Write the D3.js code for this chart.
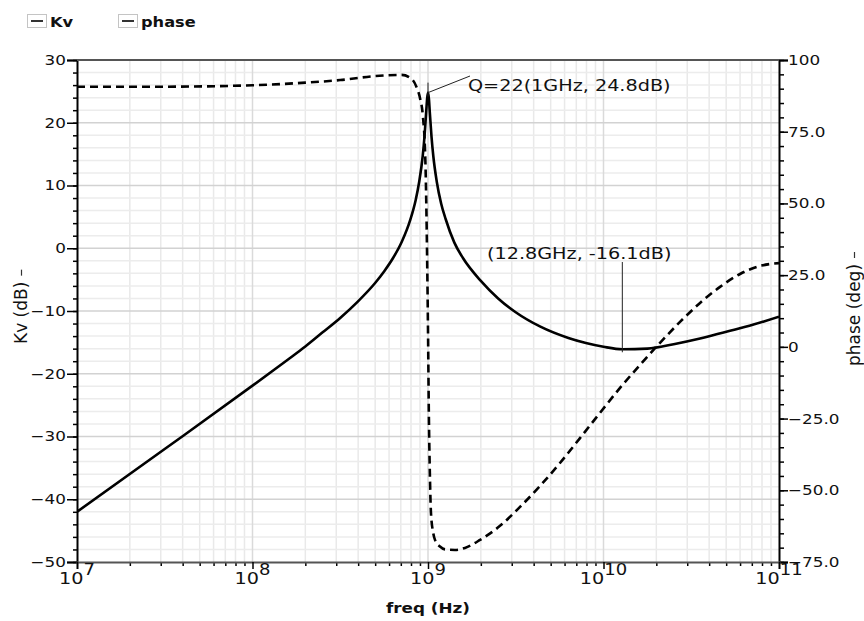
<!DOCTYPE html>
<html>
<head>
<meta charset="utf-8">
<script src="https://cdn.jsdelivr.net/npm/d3@7"></script>
<style>
  body { margin: 0; background: #fff; }
  svg { display: block; font-family: "DejaVu Sans", Verdana, sans-serif; }
</style>
</head>
<body>
<div id="canvas"></div>
<script>
// Kv magnitude (dB)
const kvFreq = [1e7, 3.16e7, 1e8, 1.58e8, 2e8, 2.51e8, 3.16e8, 3.98e8, 5.01e8, 5.62e8,
  6.31e8, 7.08e8, 7.94e8, 8.51e8, 8.91e8, 9.33e8, 9.55e8, 9.77e8, 9.89e8, 1e9,
  1.012e9, 1.023e9, 1.047e9, 1.072e9, 1.122e9, 1.189e9, 1.259e9, 1.413e9, 1.585e9, 2e9,
  2.51e9, 3.16e9, 4.37e9, 6.31e9, 7.94e9, 1e10, 1.28e10, 1.78e10, 2.51e10, 3.55e10,
  5.01e10, 7.08e10, 1e11];
const kvDb = [-42.0, -32.0, -21.9, -17.8, -15.65, -13.4, -11.1, -8.5, -5.5, -3.7,
  -1.6, 1.0, 4.6, 7.7, 10.6, 14.7, 17.8, 21.8, 23.9, 24.8,
  23.85, 21.8, 17.8, 14.7, 10.6, 7.1, 4.7, 0.9, -1.6, -5.2,
  -8.0, -10.2, -12.5, -14.3, -15.1, -15.7, -16.1, -16.0, -15.3, -14.4,
  -13.3, -12.2, -10.9];

// phase (deg)
const phaseFreq = [1e7, 3.16e7, 1e8, 2e8, 3.16e8, 5.01e8, 7.08e8, 8.13e8, 8.61e8, 9.02e8,
  9.33e8, 9.66e8, 9.89e8, 1e9, 1.012e9, 1.023e9, 1.04e9, 1.072e9, 1.096e9, 1.17e9,
  1.25e9, 1.425e9, 1.625e9, 1.979e9, 2.572e9, 3.344e9, 4.347e9, 5.651e9, 7.347e9, 9.552e9,
  1.242e10, 1.614e10, 2.099e10, 2.729e10, 3.548e10, 4.613e10, 5.998e10, 7.798e10, 1e11];
const phaseDeg = [90.7, 90.7, 91.2, 92.1, 93.0, 94.4, 94.8, 93.2, 90.5, 86.5,
  81, 65, 30, 6, -25, -42, -58, -65, -67.3, -69.6,
  -70.6, -70.8, -70.1, -67.3, -62.4, -55.8, -48.5, -40.5, -31.8, -23.0,
  -14.3, -6.3, 1.4, 8.7, 15.3, 20.9, 25.4, 28.2, 29.2];

const kvTicks = [30, 20, 10, 0, -10, -20, -30, -40, -50];
const phaseTicks = [100, 75, 50, 25, 0, -25, -50, -75];
const phaseTickLabels = ["100", "75.0", "50.0", "25.0", "0", "\u221225.0", "\u221250.0", "\u221275.0"];
const decades = [1e7, 1e8, 1e9, 1e10, 1e11];
const decadeExp = ["7", "8", "9", "10", "11"];
const legendNames = ["Kv", "phase"];
const notes = [
  { f: 1e9, db: 24.8, label: "Q=22(1GHz, 24.8dB)" },
  { f: 1.28e10, db: -16.1, label: "(12.8GHz, -16.1dB)" }
];

const w = 864, h = 621;
const margin = { top: 60, bottom: 59, left: 77, right: 85 };
const width = w - margin.left - margin.right;
const height = h - margin.top - margin.bottom;
const K = 1.2; // glyphs in the picture are a bit wide

function stretch(sel) {
  sel.each(function () {
    const len = this.getComputedTextLength();
    d3.select(this).attr("textLength", len * K).attr("lengthAdjust", "spacingAndGlyphs");
  });
}

const svg = d3.select("#canvas").append("svg")
  .attr("width", w).attr("height", h);

const chart = svg.append("g")
  .attr("transform", "translate(" + margin.left + "," + margin.top + ")");

const x = d3.scaleLog().domain([1e7, 1e11]).range([0, width]);
const y = d3.scaleLinear().domain([-50, 30]).range([height, 0]);
const yp = d3.scaleLinear().domain([-75, 100]).range([height, 0]);

// grid
const minorX = [];
decades.slice(0, -1).forEach(function (d) {
  for (let k = 2; k <= 9; k++) minorX.push(d * k);
});
const grid = chart.append("g").attr("class", "grid");
grid.selectAll(".vminor").data(minorX).enter().append("line")
  .attr("x1", d => x(d)).attr("x2", d => x(d)).attr("y1", 0).attr("y2", height)
  .attr("stroke", "#e9e9e9").attr("stroke-width", 1.5);
grid.selectAll(".hminor").data(d3.range(-48, 30, 2).filter(v => v % 10 !== 0)).enter().append("line")
  .attr("x1", 0).attr("x2", width).attr("y1", d => y(d)).attr("y2", d => y(d))
  .attr("stroke", "#ececec").attr("stroke-width", 1.5);
grid.selectAll(".vmajor").data(decades.slice(1, -1)).enter().append("line")
  .attr("x1", d => x(d)).attr("x2", d => x(d)).attr("y1", 0).attr("y2", height)
  .attr("stroke", "#dadada").attr("stroke-width", 1.5);
grid.selectAll(".hmajor").data(kvTicks.slice(1, -1)).enter().append("line")
  .attr("x1", 0).attr("x2", width).attr("y1", d => y(d)).attr("y2", d => y(d))
  .attr("stroke", "#d2d2d2").attr("stroke-width", 1.5);

// curves
chart.append("clipPath").attr("id", "clip")
  .append("rect").attr("x", 0).attr("y", -2).attr("width", width).attr("height", height + 4);

const kvLine = d3.line().curve(d3.curveMonotoneX)
  .x((d, i) => x(kvFreq[i])).y(d => y(d));
const phaseLine = d3.line().curve(d3.curveMonotoneX)
  .x((d, i) => x(phaseFreq[i])).y(d => yp(d));

const curves = chart.append("g").attr("clip-path", "url(#clip)");
curves.append("path").datum(phaseDeg)
  .attr("d", phaseLine).attr("fill", "none")
  .attr("stroke", "#000").attr("stroke-width", 2.6).attr("stroke-dasharray", "8,5");
curves.append("path").datum(kvDb)
  .attr("d", kvLine).attr("fill", "none")
  .attr("stroke", "#000").attr("stroke-width", 2.6);

// axes
function styleAxis(g) {
  g.attr("font-family", null).attr("font-size", 14);
  g.selectAll(".tick line").attr("stroke", "#000").attr("stroke-width", 1.5);
  g.selectAll("text").attr("fill", "#111");
}

const fmtKv = d => d < 0 ? "\u2212" + Math.abs(d) : String(d);

chart.append("g")
  .call(d3.axisLeft(y).tickValues(d3.range(-50, 31, 2)).tickSize(4).tickFormat(""))
  .call(g => g.select(".domain").remove())
  .call(g => g.selectAll("line").attr("stroke", "#000").attr("stroke-width", 1.5));
const leftAxis = chart.append("g")
  .call(d3.axisLeft(y).tickValues(kvTicks).tickSize(10).tickPadding(1).tickFormat(fmtKv))
  .call(styleAxis);
leftAxis.select(".domain").attr("stroke", "#000").attr("stroke-width", 2);

chart.append("g")
  .attr("transform", "translate(" + width + ",0)")
  .call(d3.axisRight(yp).tickValues(d3.range(-75, 101, 5)).tickSize(5).tickFormat(""))
  .call(g => g.select(".domain").remove())
  .call(g => g.selectAll("line").attr("stroke", "#000").attr("stroke-width", 1.5));
const rightAxis = chart.append("g")
  .attr("transform", "translate(" + width + ",0)")
  .call(d3.axisRight(yp).tickValues(phaseTicks).tickSize(9).tickPadding(0)
    .tickFormat((d, i) => phaseTickLabels[i]))
  .call(styleAxis);
rightAxis.select(".domain").attr("stroke", "#000").attr("stroke-width", 2);

chart.append("g")
  .attr("transform", "translate(0," + height + ")")
  .call(d3.axisBottom(x).tickValues(minorX).tickSize(4).tickFormat(""))
  .call(g => g.select(".domain").remove())
  .call(g => g.selectAll("line").attr("stroke", "#000").attr("stroke-width", 1.5));
const bottomAxis = chart.append("g")
  .attr("transform", "translate(0," + height + ")")
  .call(d3.axisBottom(x).tickValues(decades).tickSize(7).tickFormat(""))
  .call(styleAxis);
bottomAxis.select(".domain").attr("stroke", "#555").attr("stroke-width", 2);

// top border
chart.append("line")
  .attr("x1", 0).attr("x2", width).attr("y1", 0).attr("y2", 0)
  .attr("stroke", "#555").attr("stroke-width", 2);

// decade labels 10^n
const expLabels = chart.append("g").selectAll("text").data(decades).enter().append("text")
  .attr("x", d => x(d)).attr("y", height + 22)
  .attr("text-anchor", "middle").attr("font-size", 16).attr("fill", "#111");
expLabels.append("tspan").text("10");
expLabels.append("tspan").attr("dy", -9).attr("font-size", 15).text((d, i) => decadeExp[i]);

stretch(leftAxis.selectAll("text"));
stretch(rightAxis.selectAll("text"));
stretch(expLabels);

// axis titles
stretch(svg.append("text")
  .attr("x", margin.left + width / 2).attr("y", 613)
  .attr("text-anchor", "middle").attr("font-size", 14).attr("font-weight", "bold")
  .attr("fill", "#111").text("freq (Hz)"));

function sideTitle(tx, ty, label) {
  const g = svg.append("g").attr("transform", "translate(" + tx + "," + ty + ") rotate(-90)");
  const t = g.append("text").attr("font-size", 17).attr("fill", "#111").text(label);
  const len = t.node().getComputedTextLength();
  g.append("line")
    .attr("x1", len + 6).attr("x2", len + 12).attr("y1", -5.5).attr("y2", -5.5)
    .attr("stroke", "#333").attr("stroke-width", 1.2);
}
sideTitle(27, 344, "Kv (dB)");
sideTitle(860, 366, "phase (deg)");

// annotations
const n0 = notes[0];
const ann = chart.append("g");
ann.append("line")
  .attr("x1", x(n0.f)).attr("y1", y(n0.db))
  .attr("x2", 470 - margin.left).attr("y2", 76 - margin.top)
  .attr("stroke", "#222").attr("stroke-width", 1);
ann.append("line")
  .attr("x1", x(n0.f)).attr("x2", x(n0.f))
  .attr("y1", y(n0.db) - 10).attr("y2", y(n0.db) + 4)
  .attr("stroke", "#222").attr("stroke-width", 1);
stretch(ann.append("text")
  .attr("x", 468 - margin.left).attr("y", 91 - margin.top)
  .attr("font-size", 16).attr("fill", "#111").text(n0.label));

const n1 = notes[1];
ann.append("line")
  .attr("x1", x(n1.f)).attr("x2", x(n1.f))
  .attr("y1", 262 - margin.top).attr("y2", y(n1.db) + 3)
  .attr("stroke", "#222").attr("stroke-width", 1);
stretch(ann.append("text")
  .attr("x", 487 - margin.left).attr("y", 259 - margin.top)
  .attr("font-size", 16).attr("fill", "#111").text(n1.label));

// legend
const legend = svg.append("g");
const legendX = [27, 118];
legendNames.forEach(function (name, i) {
  const lx = legendX[i];
  legend.append("rect")
    .attr("x", lx + 0.5).attr("y", 14.5).attr("width", 19).attr("height", 13)
    .attr("fill", "#fff").attr("stroke", "#c4c4c4");
  legend.append("line")
    .attr("x1", lx + 4).attr("x2", lx + 16).attr("y1", 21).attr("y2", 21)
    .attr("stroke", "#333").attr("stroke-width", 2);
  stretch(legend.append("text")
    .attr("x", lx + 23).attr("y", 27)
    .attr("font-size", 13.5).attr("font-weight", "bold").attr("fill", "#111")
    .text(name));
});
</script>
</body>
</html>
